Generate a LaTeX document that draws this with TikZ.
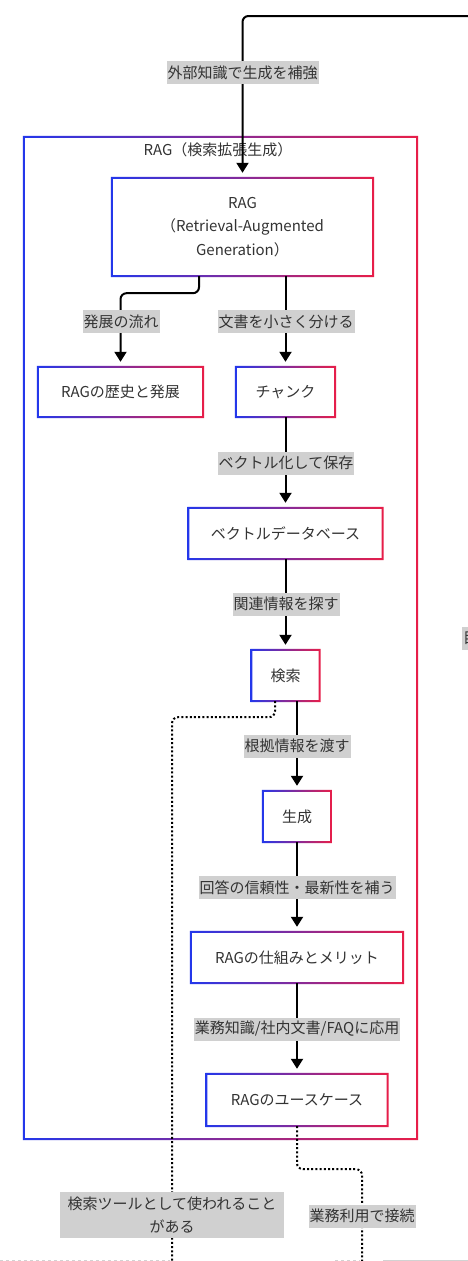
\documentclass[tikz,border=0pt]{standalone}
\usepackage{fontspec}
\setmainfont{Noto Sans CJK JP}
\usetikzlibrary{arrows.meta,calc}
\definecolor{cB}{RGB}{35,55,235}
\definecolor{cR}{RGB}{232,30,72}
\definecolor{lblgray}{RGB}{208,208,208}
\definecolor{txt}{RGB}{51,51,51}
\newcommand\gradframe[1]{%
  \shade[left color=cB,right color=cR,even odd rule]
    ([shift={(-1pt,-1pt)}]#1.south west) rectangle ([shift={(1pt,1pt)}]#1.north east)
    ([shift={(1pt,1pt)}]#1.south west) rectangle ([shift={(-1pt,-1pt)}]#1.north east);}
\begin{document}
\begin{tikzpicture}[x=1pt,y=-1pt,
  box/.style={inner sep=0pt, text=txt, font=\fontsize{15}{23.5}\selectfont, align=center},
  lbl/.style={fill=lblgray, text=txt, font=\fontsize{15}{23}\selectfont, inner xsep=1pt, inner ysep=0pt, minimum height=23pt, align=center},
  arr/.style={draw=black, line width=2pt, -{Triangle[width=12pt,length=10pt]}, shorten >=5pt},
  dotlink/.style={draw=black, line width=2pt, dash pattern=on 2pt off 2.2pt},
]
\useasboundingbox[fill=white] (0,0) rectangle (468,1261);

% cluster
\node[box, minimum width=393pt, minimum height=1002pt] (clu) at (220.5,638) {};
\gradframe{clu}
\node[box] (clutitle) at (218,150) {RAG（検索拡張生成）};

% nodes
\node[box, minimum width=261pt, minimum height=98pt] (rag) at (242.5,227) {RAG\\（Retrieval-Augmented\\Generation）};
\node[box, minimum width=165pt, minimum height=50pt] (hist) at (120.5,392) {RAGの歴史と発展};
\node[box, minimum width=99pt, minimum height=50pt] (chunk) at (285.5,392) {チャンク};
\node[box, minimum width=194pt, minimum height=51pt] (vdb) at (285.5,533.5) {ベクトルデータベース};
\node[box, minimum width=68pt, minimum height=51pt] (search) at (285.5,675.5) {検索};
\node[box, minimum width=68pt, minimum height=51pt] (gen) at (297,816.5) {生成};
\node[box, minimum width=212pt, minimum height=51pt] (merit) at (297,957.5) {RAGの仕組みとメリット};
\node[box, minimum width=181pt, minimum height=52pt] (uc) at (297,1100) {RAGのユースケース};
\foreach \n in {rag,hist,chunk,vdb,search,gen,merit,uc}{\gradframe{\n}}

% free ends
\coordinate (topin) at (470,16);
\coordinate (sbot) at (172,1263);
\coordinate (ubot) at (362,1263);

% connectors
\draw[arr, rounded corners=6pt] (topin) -| (rag.north);
\draw[arr, rounded corners=6pt] ([xshift=-43.5pt]rag.south) -- ++(0,17) -| (hist.north);
\draw[arr] (chunk.north |- rag.south) -- (chunk.north);
\draw[arr] (chunk.south) -- (vdb.north);
\draw[arr] (vdb.south) -- (search.north);
\draw[arr] (gen.north |- search.south) -- (gen.north);
\draw[arr] (gen.south) -- (merit.north);
\draw[arr] (merit.south) -- (uc.north);
\draw[dotlink, rounded corners=6pt] ([xshift=-10.5pt]search.south) -- ++(0,16) -| (sbot);
\draw[dotlink, rounded corners=6pt] (uc.south) -- ++(0,43) -| (ubot);

% labels
\node[lbl] (l1) at (242.5,72.5) {外部知識で生成を補強};
\node[lbl] (l2) at (121,321.5) {発展の流れ};
\node[lbl] (l3) at (286,321.5) {文書を小さく分ける};
\node[lbl] (l4) at (286,463) {ベクトル化して保存};
\node[lbl] (l5) at (286,604) {関連情報を探す};
\node[lbl] (l6) at (297,746) {根拠情報を渡す};
\node[lbl] (l7) at (297,887.5) {回答の信頼性・最新性を補う};
\node[lbl] (l8) at (297,1029) {業務知識/社内文書/FAQに応用};
\node[lbl, minimum width=224pt, minimum height=46pt] (l9) at (172,1215) {検索ツールとして使われること\\がある};
\node[lbl] (l10) at (362,1216) {業務利用で接続};

% cut-off fragments at the edges
\node[lbl, anchor=west] (l11) at (462,638.5) {目};
\draw[gray!35, line width=1pt, dashed] (0,1260) -- (170,1260);
\draw[gray!35, line width=1pt, dashed] (335,1260) -- (360,1260);
\draw[gray!35, line width=1pt] (383,1260) -- (468,1260);
\end{tikzpicture}
\end{document}
